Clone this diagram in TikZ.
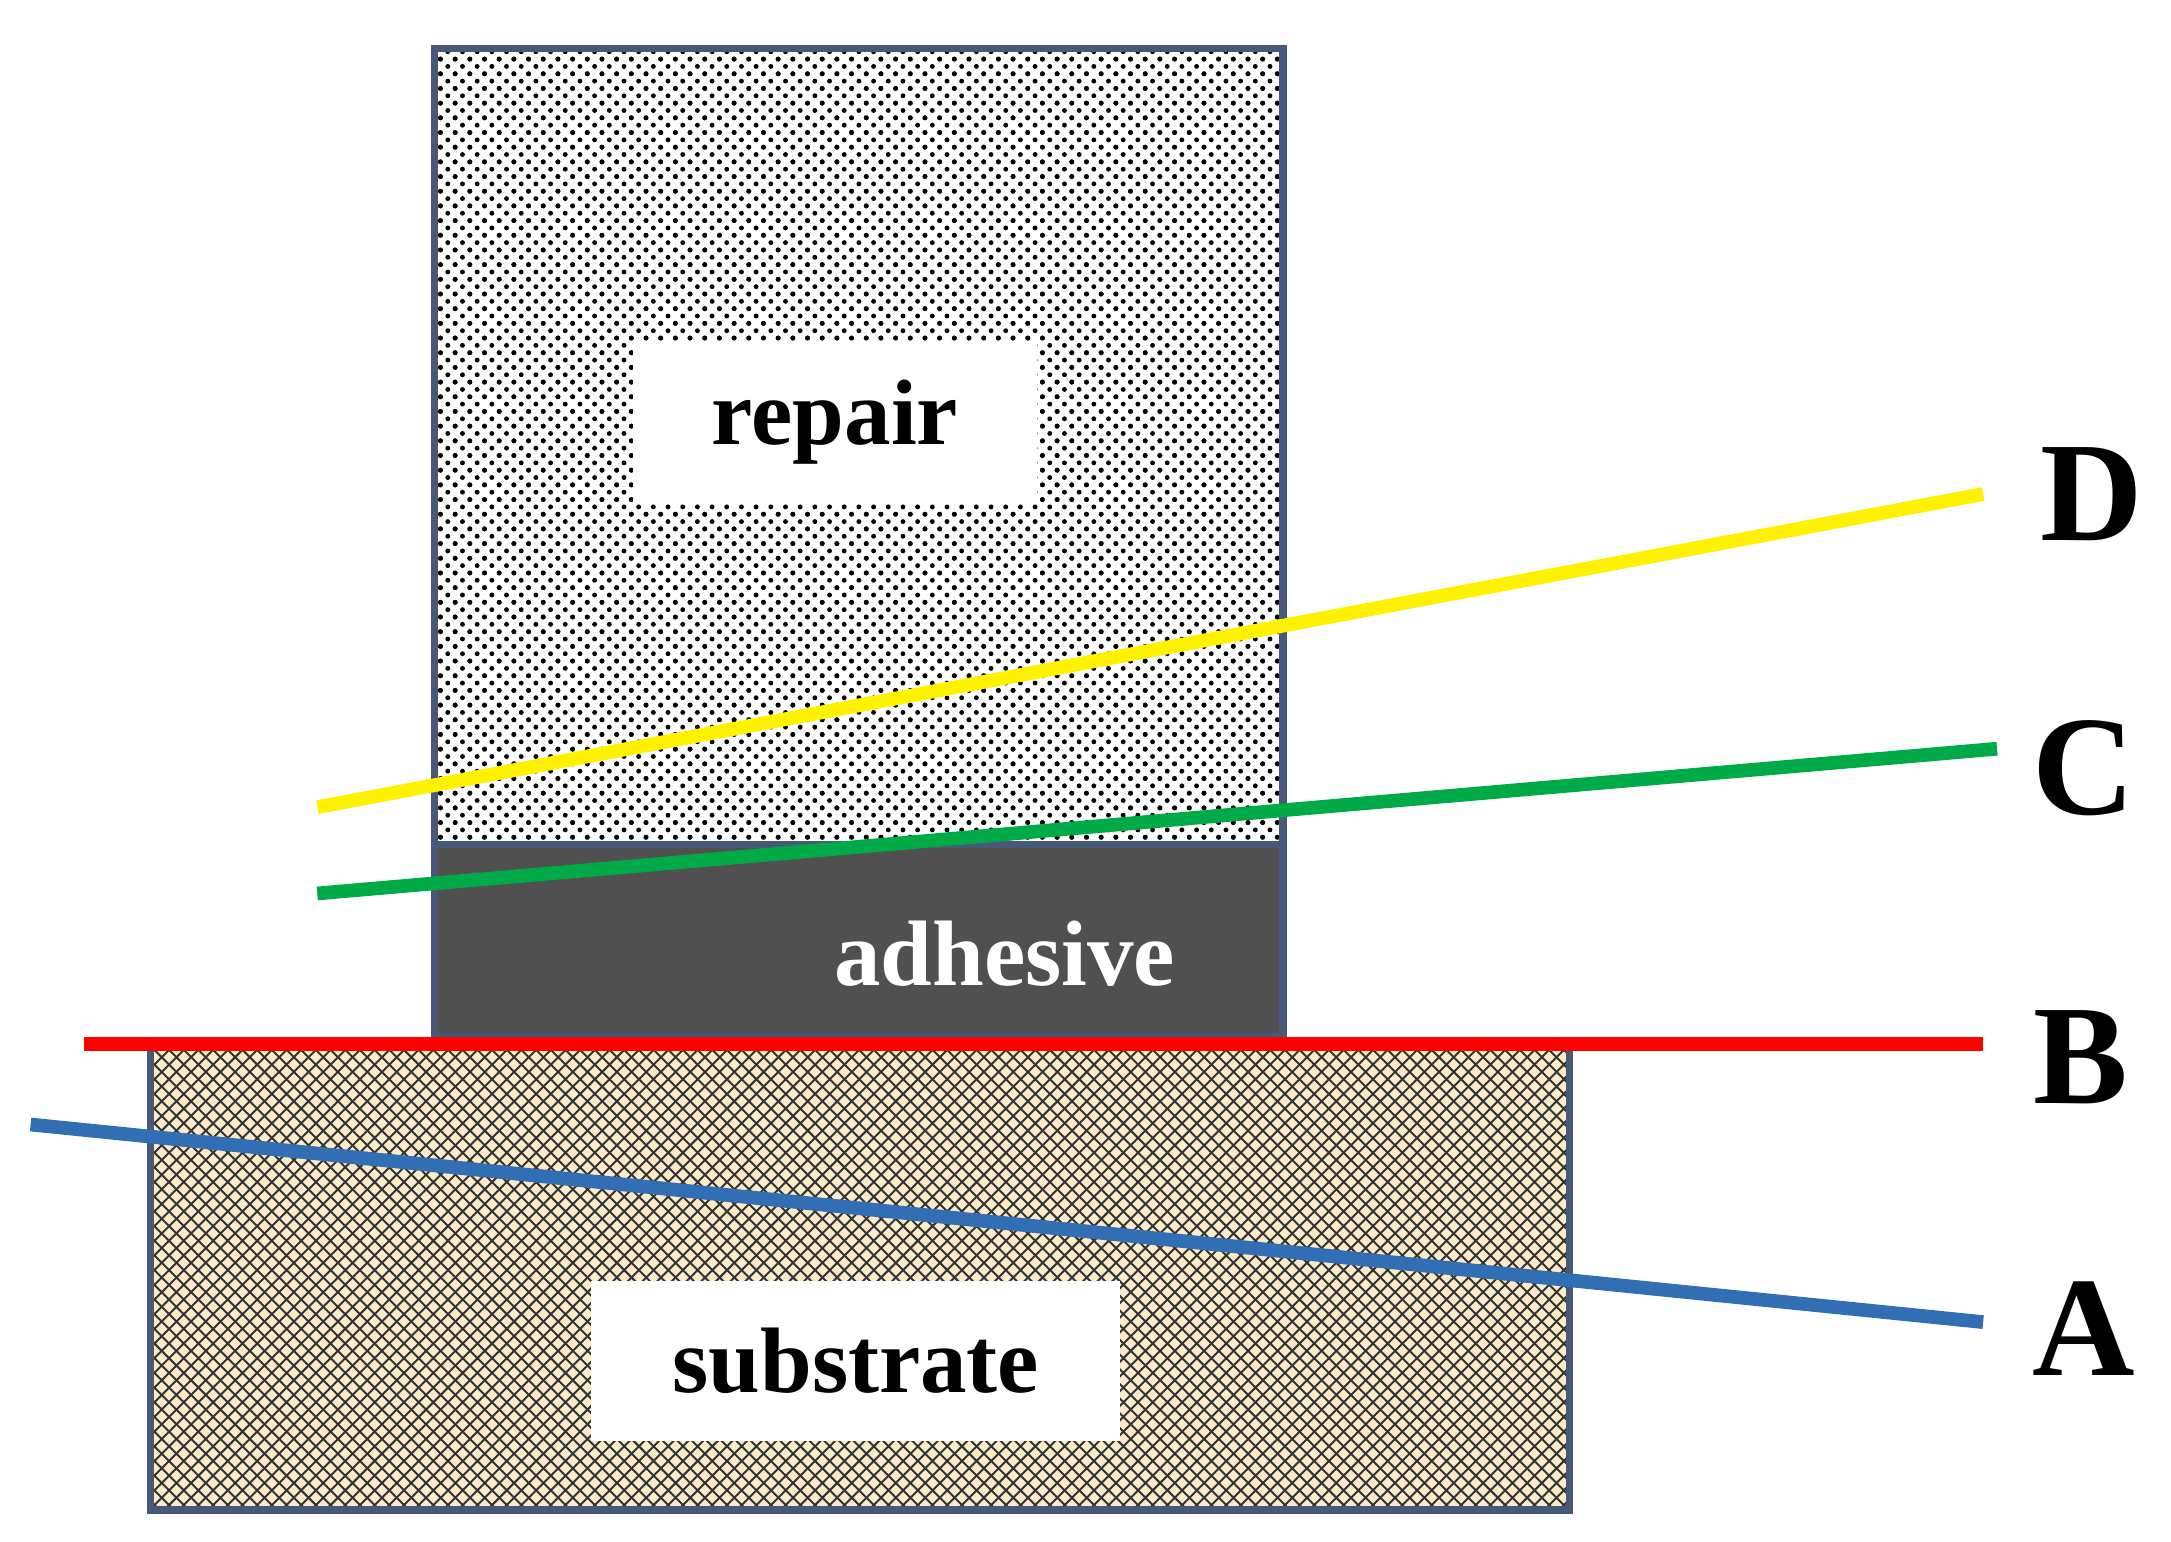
\documentclass[tikz,border=0pt]{standalone}
\usepackage{fontspec}
\setmainfont{Liberation Serif}
\usetikzlibrary{patterns}
\definecolor{beige}{RGB}{252,235,200}
\definecolor{adh}{RGB}{80,80,80}
\definecolor{frame}{RGB}{70,90,120}
\definecolor{cblue}{RGB}{50,110,180}
\definecolor{cgreen}{RGB}{0,170,70}

\begin{document}
\begin{tikzpicture}[
    x=0.01cm, y=-0.01cm,
    % Styles
    block/.style={draw=frame, line width=1.5pt},
    tag/.style={fill=white, font=\bfseries\fontsize{19}{23}\selectfont, inner sep=0pt},
    crack/.style={line width=2.8pt},
    letter/.style={font=\bfseries\fontsize{29}{34}\selectfont}
]
    \useasboundingbox (0,0) rectangle (1560,1108);

    % Layers
    \fill[beige] (108,750) rectangle (1128,1085);
    \fill[pattern=crosshatch, pattern color=black!80] (108,750) rectangle (1128,1085);
    \draw[block] (108,750) rectangle (1128,1085);
    \fill[pattern=crosshatch dots, pattern color=black] (312,35) rectangle (922,607);
    \fill[pattern=dots, pattern color=black] (312,35) rectangle (922,607);
    \draw[block] (312,35) rectangle (922,607);
    \draw[block, fill=adh] (312,607) rectangle (922,745);

    % Labels
    \node[tag, minimum width=2.9cm, minimum height=1.15cm] (repair) at (600,303) {repair};
    \node[tag, minimum width=3.8cm, minimum height=1.15cm] (substrate) at (615,978) {substrate};
    \node[font=\bfseries\fontsize{19}{23}\selectfont, text=white] (adhesive) at (722,685) {adhesive};

    % Failure paths
    \node[letter] (D) at (1503,355) {D};
    \node[letter] (C) at (1497,552) {C};
    \node[letter] (B) at (1495,760) {B};
    \node[letter] (A) at (1497,955) {A};
    \coordinate (d0) at (228,580);
    \coordinate (c0) at (228,642);
    \coordinate (b0) at (60,750);
    \coordinate (a0) at (22,808);
    \draw[crack, yellow] (d0) -- (1425,355);
    \draw[crack, cgreen] (c0) -- (1435,538);
    \draw[crack, red] (b0) -- (1425,750);
    \draw[crack, cblue] (a0) -- (1425,950);
\end{tikzpicture}
\end{document}
